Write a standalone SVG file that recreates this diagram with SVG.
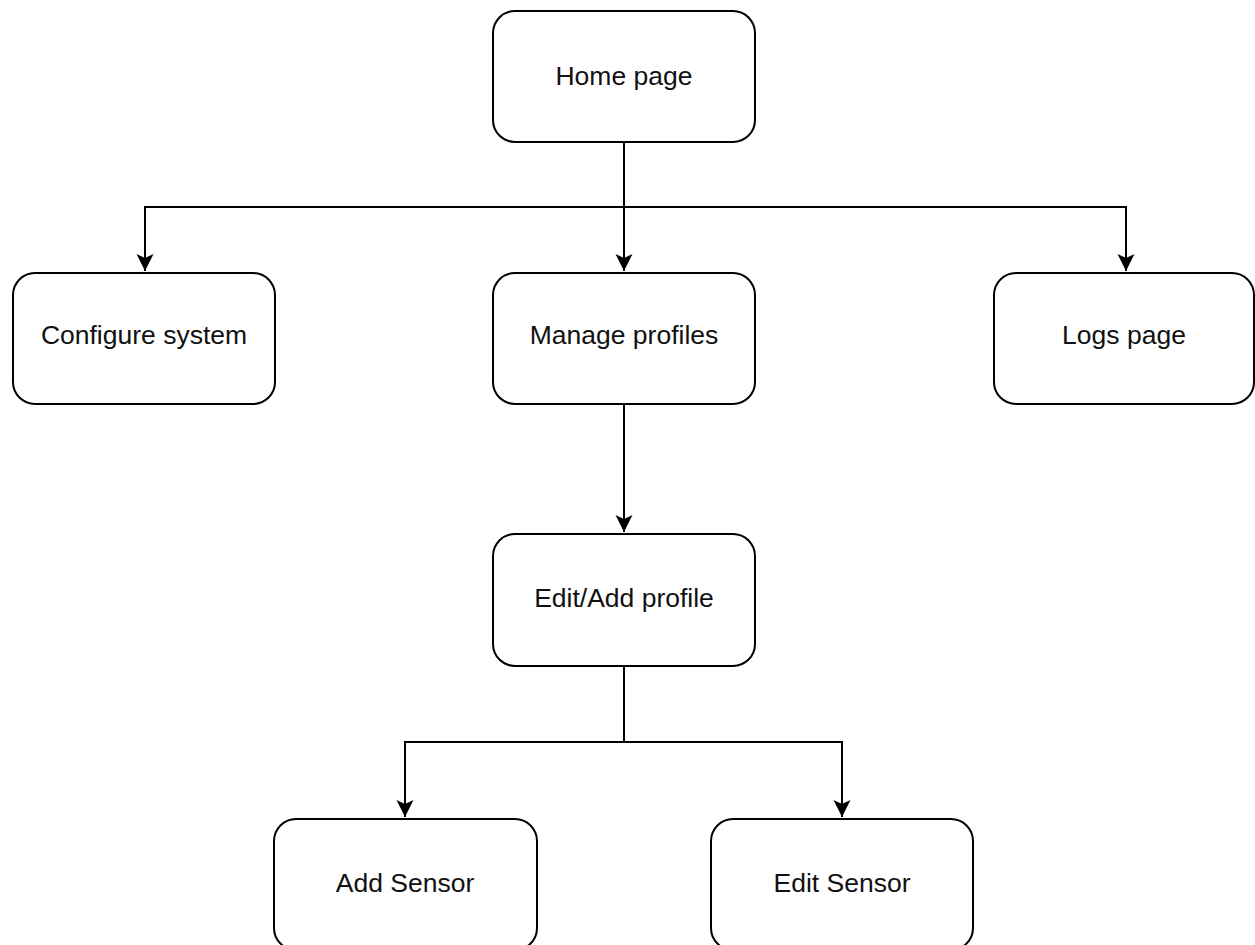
<svg xmlns="http://www.w3.org/2000/svg" width="1255" height="945" viewBox="0 0 1255 945">
<style>
.box{fill:#fff;stroke:#000;stroke-width:2}
.lbl{font-family:"Liberation Sans",Arial,sans-serif;font-size:26.5px;fill:#111;text-anchor:middle}
.edge{fill:none;stroke:#000;stroke-width:2}
</style>
<defs>
<marker id="arr" markerUnits="userSpaceOnUse" markerWidth="20" markerHeight="20" viewBox="0 0 20 20" refX="18" refY="10" orient="auto">
<path d="M1,1.5 L18,10 L1,18.5 L5,10 Z" fill="#000"/>
</marker>
</defs>
<rect width="1255" height="945" fill="#fff"/>
<g id="connectors">
<path class="edge" d="M624,142 V207 H145 V271" marker-end="url(#arr)"/>
<path class="edge" d="M624,142 V271" marker-end="url(#arr)"/>
<path class="edge" d="M624,207 H1126 V271" marker-end="url(#arr)"/>
<path class="edge" d="M624,404 V532" marker-end="url(#arr)"/>
<path class="edge" d="M624,666 V742 H405 V817" marker-end="url(#arr)"/>
<path class="edge" d="M624,742 H842 V817" marker-end="url(#arr)"/>
</g>
<g id="home"><rect class="box" x="493" y="11" width="262" height="131" rx="22"/><text class="lbl" x="624" y="85">Home page</text></g>
<g id="configure"><rect class="box" x="13" y="273" width="262" height="131" rx="22"/><text class="lbl" x="144" y="344">Configure system</text></g>
<g id="manage"><rect class="box" x="493" y="273" width="262" height="131" rx="22"/><text class="lbl" x="624" y="344">Manage profiles</text></g>
<g id="logs"><rect class="box" x="994" y="273" width="260" height="131" rx="22"/><text class="lbl" x="1124" y="344">Logs page</text></g>
<g id="editadd"><rect class="box" x="493" y="534" width="262" height="132" rx="22"/><text class="lbl" x="624" y="607">Edit/Add profile</text></g>
<g id="addsensor"><rect class="box" x="274" y="819" width="263" height="131" rx="22"/><text class="lbl" x="405" y="892">Add Sensor</text></g>
<g id="editsensor"><rect class="box" x="711" y="819" width="262" height="131" rx="22"/><text class="lbl" x="842" y="892">Edit Sensor</text></g>
</svg>
